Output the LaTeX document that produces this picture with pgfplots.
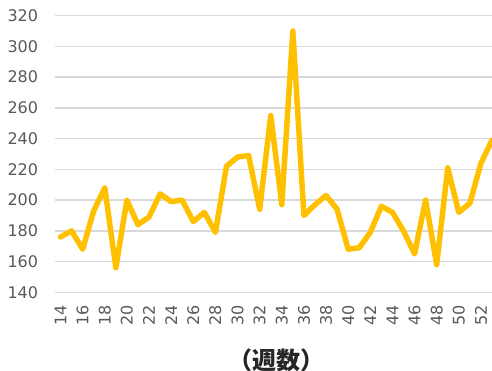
\documentclass[border=0pt]{standalone}
\usepackage{fontspec}
\setmainfont{DejaVu Sans}
\newfontfamily\cjk{Noto Sans CJK JP}
\usepackage{pgfplots}
\pgfplotsset{compat=1.18}
\definecolor{lineor}{HTML}{FFC000}
\definecolor{gridgray}{HTML}{D9D9D9}
\definecolor{ticktext}{HTML}{595959}
\begin{document}
\begin{tikzpicture}
\useasboundingbox (-41.25pt,-59pt) rectangle (327.75pt,219.23pt);
\begin{axis}[
  scale only axis,
  width=327.75pt, height=207.5pt,
  at={(0,0)}, anchor=south west,
  xmin=13.5, xmax=53,
  ymin=140, ymax=320,
  ytick={140,160,...,320},
  xtick={14,16,...,52},
  ymajorgrids,
  grid style={gridgray, line width=1.1pt},
  axis line style={draw=none},
  major tick length=0pt,
  tick style={draw=none},
  /pgf/number format/assume math mode=true,
  ticklabel style={font=\fontsize{12}{12}\selectfont, text=ticktext},
  yticklabel style={anchor=east, inner sep=0pt, xshift=-12.5pt},
  xticklabel style={rotate=90, anchor=east, inner sep=0pt, xshift=-9.75pt},
  xlabel={\cjk\bfseries\fontsize{18}{18}\selectfont （週数）},
  xlabel style={at={(rel axis cs:0.5,0)}, anchor=center, yshift=-50.8pt, xshift=2pt, text=black!85},
]
\addplot[lineor, line width=4.1pt, line join=round, line cap=round] coordinates {
(14,176) (15,180) (16,168) (17,193) (18,208) (19,156) (20,200) (21,184) (22,189) (23,204)
(24,199) (25,200) (26,186) (27,192) (28,179) (29,222) (30,228) (31,229) (32,194) (33,255)
(34,197) (35,310) (36,190) (37,197) (38,203) (39,194) (40,168) (41,169) (42,179) (43,196)
(44,192) (45,180) (46,165) (47,200) (48,158) (49,221) (50,192) (51,198) (52,224) (53,239)
};
\end{axis}
\end{tikzpicture}
\end{document}
